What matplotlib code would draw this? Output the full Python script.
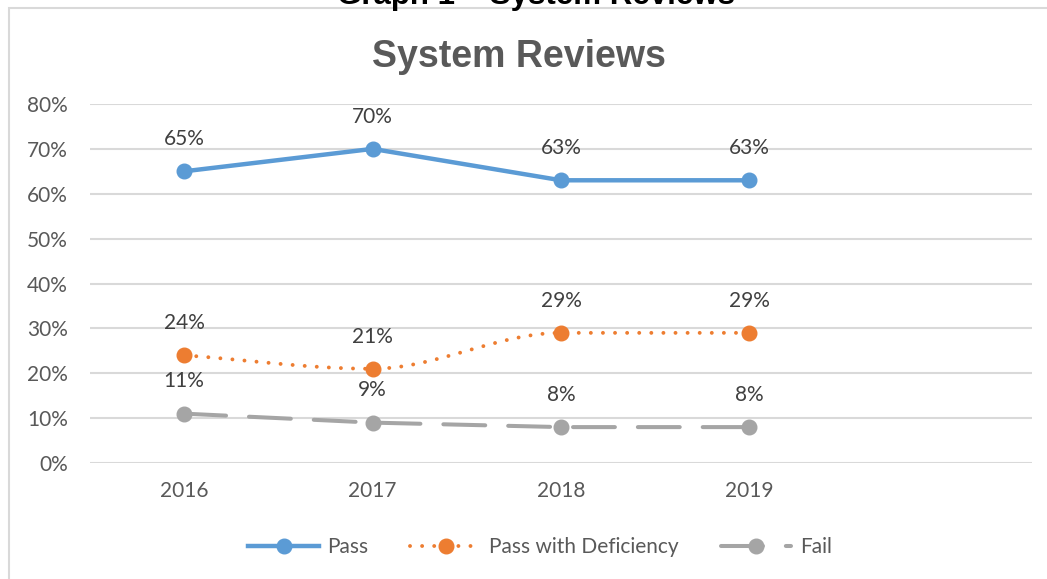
import matplotlib.pyplot as plt
import numpy as np
from matplotlib.patches import Rectangle

years = ["2016", "2017", "2018", "2019"]
n_slots = 5  # Excel left an empty category slot on the right
pass_vals = [65, 70, 63, 63]
deficiency_vals = [24, 21, 29, 29]
fail_vals = [11, 9, 8, 8]

blue = "#5B9BD5"
orange = "#ED7D31"
grey = "#A5A5A5"
text_c = "#595959"
label_c = "#404040"
font = ["Lato", "DejaVu Sans"]
fs = 15


def smooth_line(xs, ys, steps=40):
    # monotone cubic (Fritsch-Carlson) path through the points, close to Excel's smoothed line
    xs = np.asarray(xs, float)
    ys = np.asarray(ys, float)
    h = np.diff(xs)
    d = np.diff(ys) / h
    m = np.zeros_like(ys)
    m[0], m[-1] = d[0], d[-1]
    for i in range(1, len(ys) - 1):
        if d[i - 1] * d[i] > 0:
            m[i] = 2 / (1 / d[i - 1] + 1 / d[i])
    out_x, out_y = [], []
    for i in range(len(h)):
        t = np.linspace(0, 1, steps)
        h00 = 2 * t ** 3 - 3 * t ** 2 + 1
        h10 = t ** 3 - 2 * t ** 2 + t
        h01 = -2 * t ** 3 + 3 * t ** 2
        h11 = t ** 3 - t ** 2
        yy = h00 * ys[i] + h10 * h[i] * m[i] + h01 * ys[i + 1] + h11 * h[i] * m[i + 1]
        xx = xs[i] + t * h[i]
        if i > 0:
            xx, yy = xx[1:], yy[1:]
        out_x.append(xx)
        out_y.append(yy)
    return np.concatenate(out_x), np.concatenate(out_y)


fig = plt.figure(figsize=(10.47, 5.79), dpi=100)
ax = fig.add_axes([90 / 1047, 1 - 463 / 579, 942 / 1047, (463 - 104) / 579])

x = np.arange(len(years))

# chart border, the box of the embedded Excel chart
fig.patches.append(Rectangle((9 / 1047, -0.01), 1.02, 1 - 7.5 / 579 + 0.01, transform=fig.transFigure,
                             fill=False, ec="#D9D9D9", lw=1.5))

ax.plot(x, pass_vals, color=blue, lw=3.2, solid_capstyle="round", zorder=3)
ax.plot(x, pass_vals, ls="none", marker="o", ms=10.5, color=blue, zorder=4)

sx, sy = smooth_line(x, deficiency_vals)
ax.plot(sx, sy, color=orange, lw=2.8, ls=(0, (0.01, 3.1)), dash_capstyle="round", zorder=3)
ax.plot(x, deficiency_vals, ls="none", marker="o", ms=10.5, color=orange, zorder=4)

ax.plot(x, fail_vals, color=grey, lw=2.9, ls=(0, (10.4, 5.7)), dash_capstyle="round", zorder=3)
ax.plot(x, fail_vals, ls="none", marker="o", ms=10.5, color=grey, zorder=4)

for vals in (pass_vals, deficiency_vals, fail_vals):
    for xi, v in zip(x, vals):
        ax.annotate(f"{v}%", (xi, v), xytext=(0, 16), textcoords="offset points", ha="center", va="bottom",
                    fontsize=fs, color=label_c, family=font)

ax.set_xlim(-0.5, n_slots - 0.5)
ax.set_ylim(0, 80)
ax.set_yticks(range(0, 81, 10))
ax.set_yticklabels([f"{v}%" for v in range(0, 81, 10)])
ax.set_xticks(x)
ax.set_xticklabels(years)
ax.tick_params(length=0, labelsize=fs, labelcolor=text_c)
ax.tick_params(axis="y", pad=16)
ax.tick_params(axis="x", pad=13)
for lab in ax.get_xticklabels() + ax.get_yticklabels():
    lab.set_family(font)
ax.grid(axis="y", color="#D9D9D9", lw=1.5)
ax.set_axisbelow(True)
for s in ax.spines.values():
    s.set_visible(False)

fig.text(519 / 1047, 1 - 57 / 579, "System Reviews", ha="center", va="center", fontsize=27,
         fontweight="bold", color=text_c, family="Liberation Sans")
# document heading, cut off by the top of the screenshot
fig.text(536 / 1047, 1 - 4 / 579, "Graph 1 \u2013 System Reviews", ha="center", va="baseline", fontsize=22.5,
         fontweight="bold", color="black", family="Liberation Sans")

# legend built from proxy lines so the markers sit in the middle
h_pass, = ax.plot([], [], color=blue, lw=3.2, marker="o", ms=10.5)
h_def, = ax.plot([], [], color=orange, lw=2.8, ls=(0, (0.01, 3.1)), dash_capstyle="round", marker="o", ms=10.5)
h_fail, = ax.plot([], [], color=grey, lw=2.9, ls=(0, (10.4, 5.7)), dash_capstyle="round", marker="o", ms=10.5)
leg = fig.legend([h_pass, h_def, h_fail], ["Pass", "Pass with Deficiency", "Fail"], loc="center",
                 bbox_to_anchor=(540 / 1047, 1 - 547 / 579), ncol=3, frameon=False, handlelength=3.4,
                 columnspacing=2.0, handletextpad=0.4, prop={"family": font, "size": fs})
for t in leg.get_texts():
    t.set_color(text_c)

fig.savefig("out.png", dpi=100)
